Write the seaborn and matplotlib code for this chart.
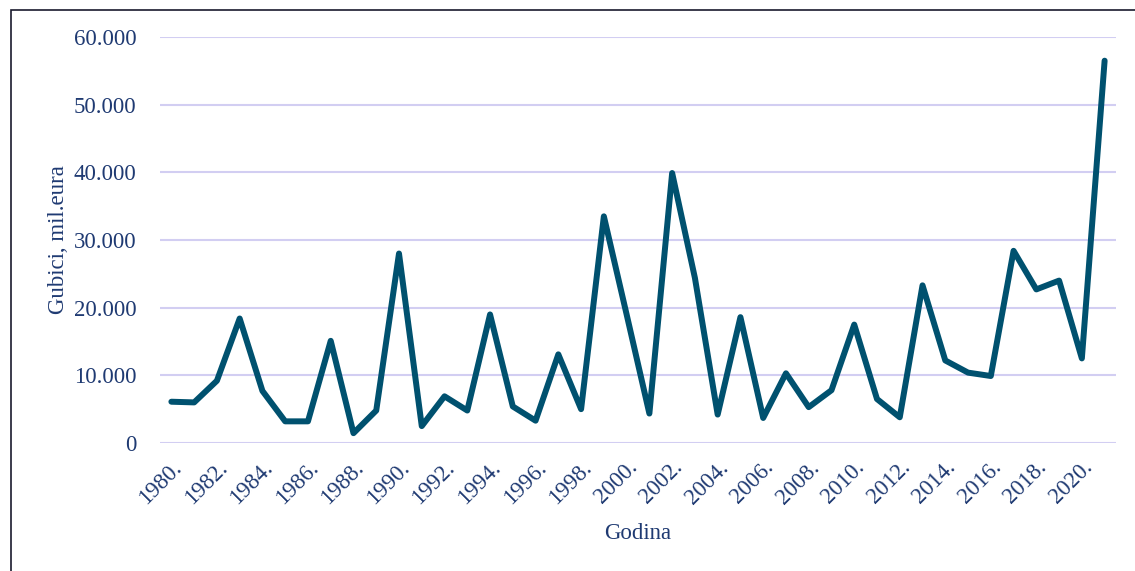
import matplotlib
matplotlib.use("Agg")
import matplotlib.pyplot as plt
from matplotlib.patches import Rectangle
import pandas as pd
import seaborn as sns

# Annual losses (million EUR), 1980-2021
years = list(range(1980, 2022))
losses = [
    6100, 6000, 9200, 18400, 7700, 3200, 3200, 15100, 1450, 4800,
    28000, 2500, 6900, 4800, 19000, 5400, 3300, 13100, 5000, 33500,
    19000, 4350, 39900, 24400, 4200, 18600, 3700, 10300, 5300, 7800,
    17500, 6500, 3800, 23300, 12200, 10400, 9900, 28400, 22700, 24000,
    12500, 56500,
]
y_ticks = [0, 10000, 20000, 30000, 40000, 50000, 60000]
y_tick_labels = ["0", "10.000", "20.000", "30.000", "40.000", "50.000", "60.000"]
x_tick_years = list(range(1980, 2021, 2))

TEXT = "#1F3A72"
LINE = "#00516F"
GRID = "#D2CEF2"

sns.set_theme(style="white")
plt.rcParams["font.family"] = ["Liberation Serif", "DejaVu Serif"]

df = pd.DataFrame({"Godina": years, "Gubici": losses})

fig = plt.figure(figsize=(11.35, 5.71), dpi=100)
ax = fig.add_axes([160 / 1135, 1 - 443 / 571, (1116 - 160) / 1135, (443 - 37) / 571])

sns.lineplot(data=df, x="Godina", y="Gubici", ax=ax, color=LINE,
             linewidth=4.3, solid_joinstyle="round", solid_capstyle="round")

ax.set_xlim(1979.5, 2021.5)
ax.set_ylim(0, 60000)
ax.set_yticks(y_ticks)
ax.set_yticklabels(y_tick_labels)
ax.set_xticks(x_tick_years)
ax.set_xticklabels([f"{y}." for y in x_tick_years], rotation=45,
                   ha="right", rotation_mode="anchor")

ax.yaxis.grid(True, color=GRID, linewidth=1.5)
ax.xaxis.grid(False)
ax.set_axisbelow(True)
for s in ax.spines.values():
    s.set_visible(False)

ax.tick_params(axis="both", length=0, labelsize=16.5, colors=TEXT)
ax.tick_params(axis="y", pad=17)
ax.tick_params(axis="x", pad=10)

ax.set_xlabel("Godina", fontsize=16.5, color=TEXT, labelpad=11)
ax.set_ylabel("Gubici, mil.eura", fontsize=16.5, color=TEXT, labelpad=3)

# outer frame around the figure
fig.add_artist(Rectangle((10.5 / 1135, -0.1), 1.2, 1 - 9.5 / 571 + 0.1,
                         transform=fig.transFigure, fill=False,
                         edgecolor="#1A1A2E", linewidth=1.2, clip_on=False))

fig.savefig("out.png", dpi=100)
